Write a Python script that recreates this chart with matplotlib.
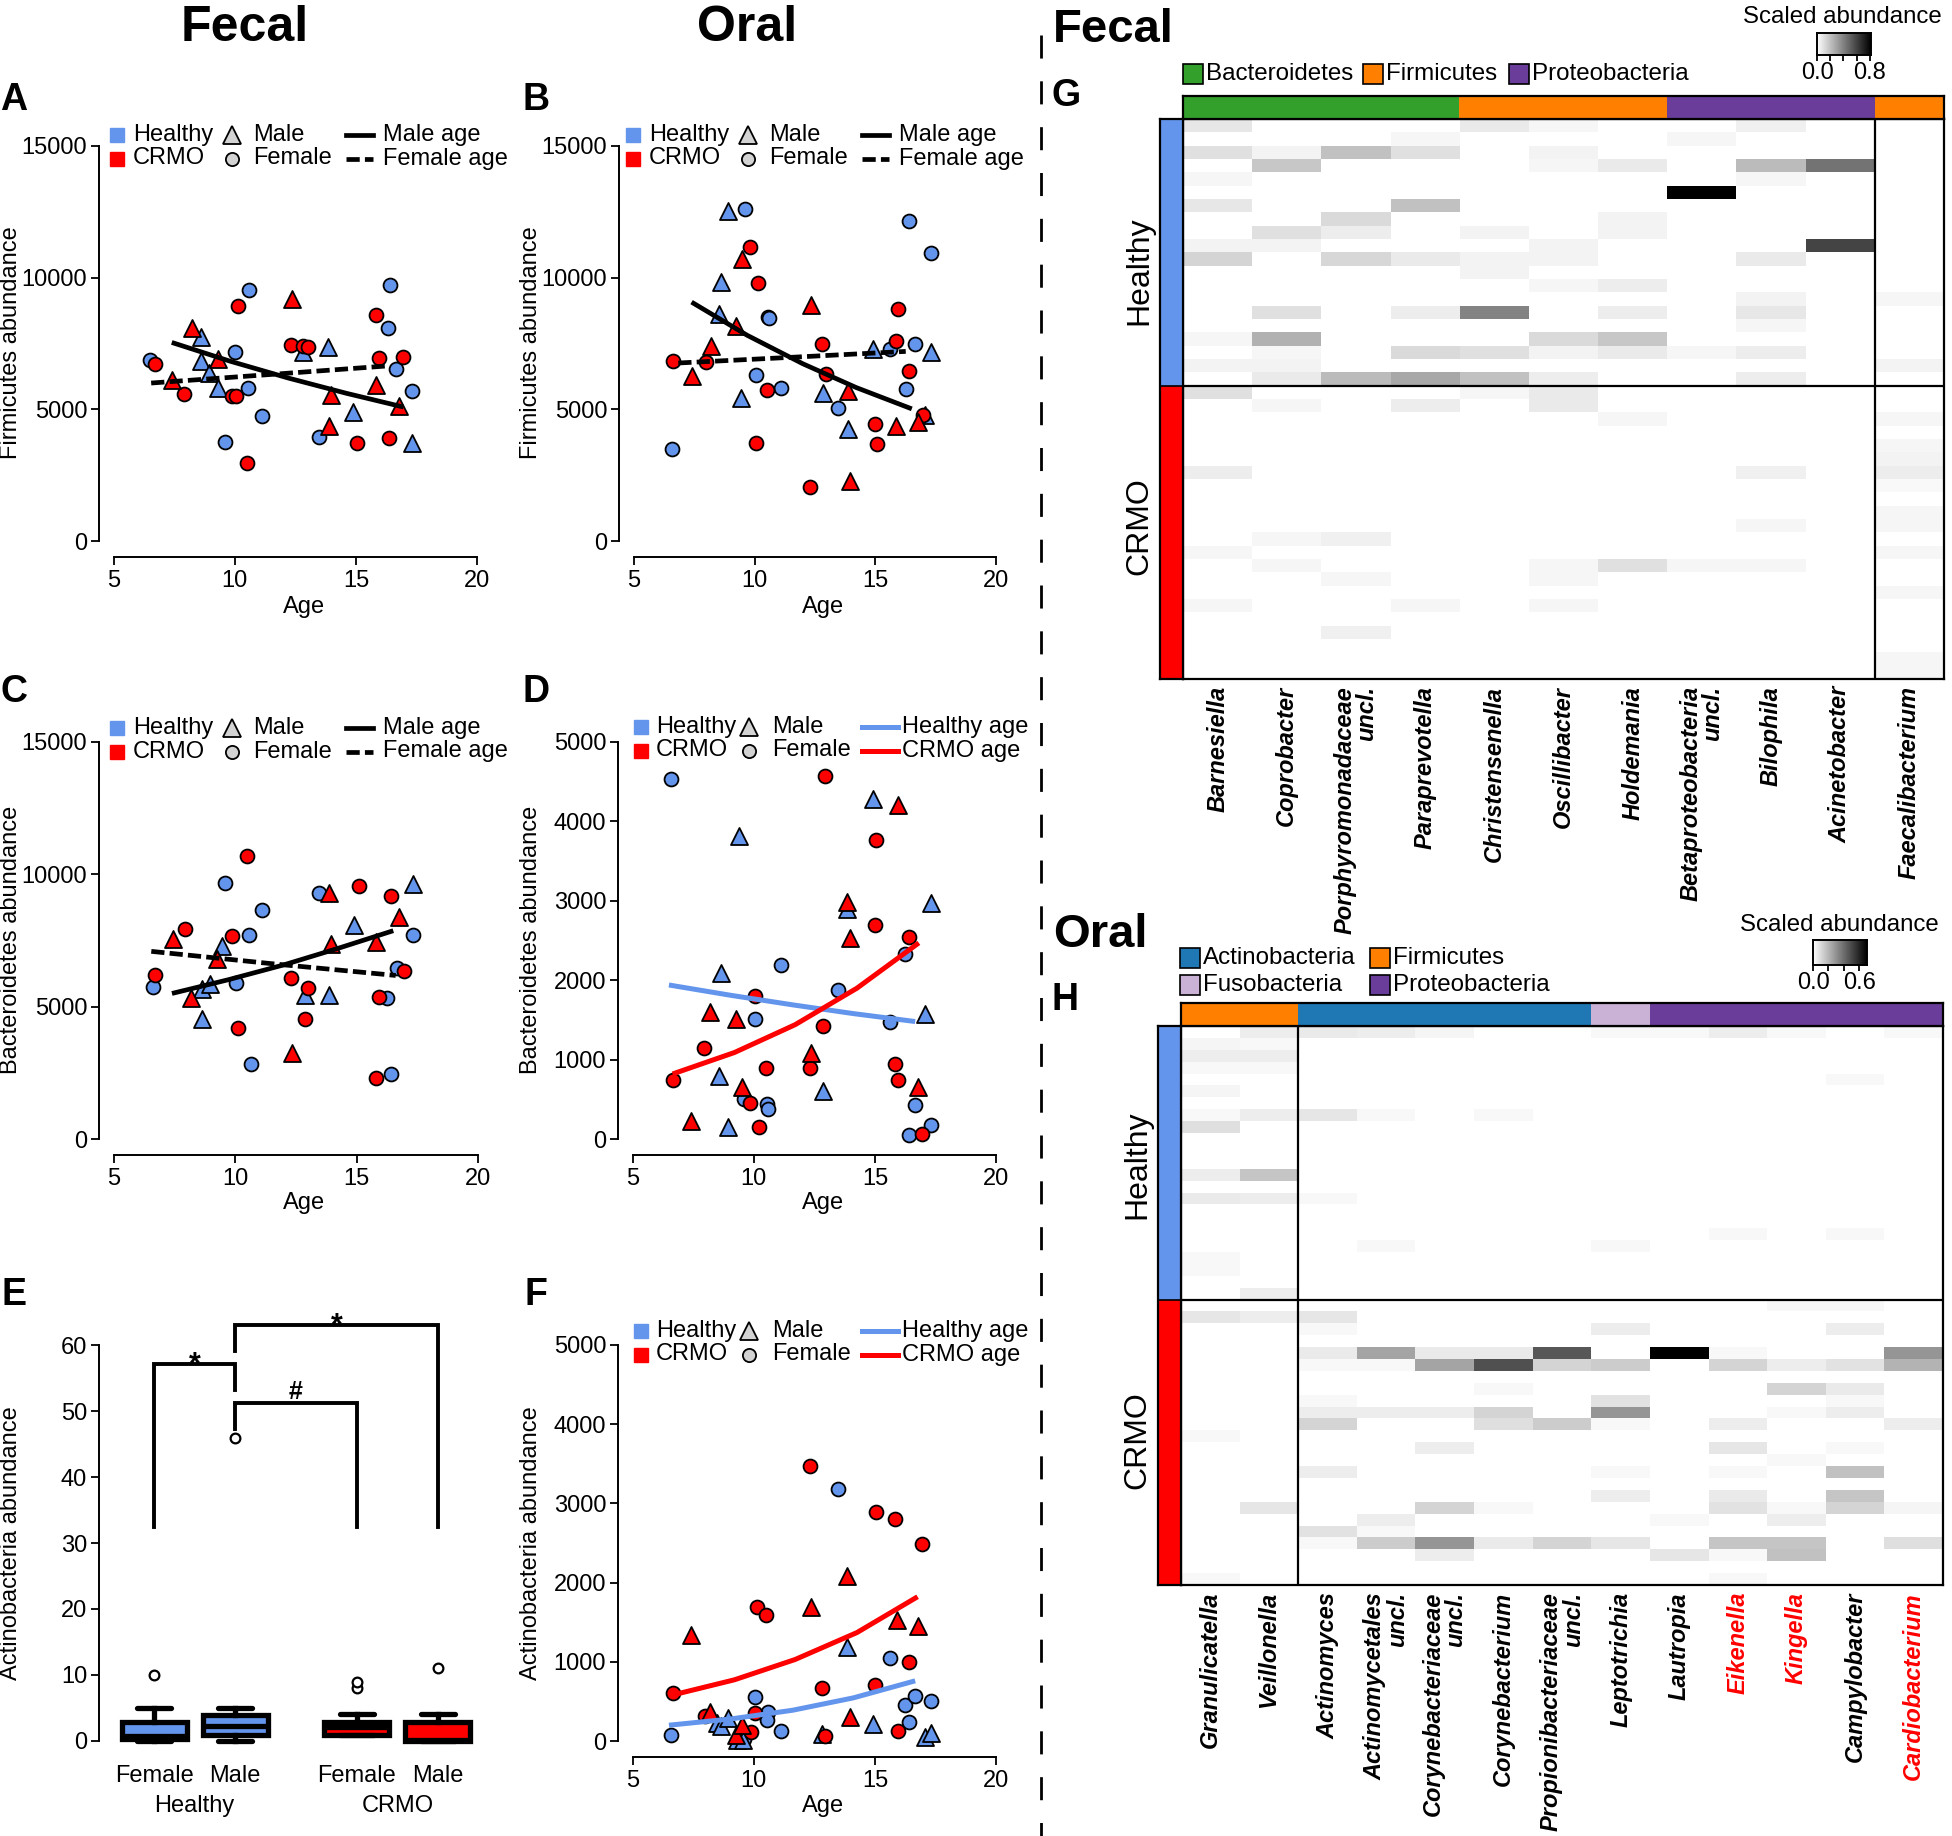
import numpy as np
import matplotlib
matplotlib.use("Agg")
import matplotlib.pyplot as plt
from matplotlib.colors import LinearSegmentedColormap, to_rgb
from matplotlib.lines import Line2D
from matplotlib.transforms import blended_transform_factory

plt.rcParams['font.family'] = ['Liberation Sans', 'DejaVu Sans']

# ---------------- data ----------------
# A: fecal Firmicutes vs age (hf = healthy female, hm = healthy male, cf/cm = CRMO)
a_hf_age = [6.5, 10.0, 10.6, 10.55, 11.1, 9.6, 13.45, 16.4, 16.3, 16.65, 17.3]
a_hf_val = [6890, 7170, 9520, 5800, 4760, 3780, 3950, 9720, 8090, 6550, 5700]
a_hm_age = [8.6, 8.6, 8.95, 9.3, 12.8, 13.85, 14.85, 17.3]
a_hm_val = [7760, 6850, 6390, 5800, 7170, 7370, 4890, 3720]
a_cf_age = [6.7, 7.9, 10.15, 9.9, 10.05, 10.5, 12.3, 12.8, 13.0, 15.05, 15.8, 15.95, 16.35, 16.95]
a_cf_val = [6720, 5580, 8930, 5500, 5500, 2970, 7430, 7410, 7370, 3720, 8580, 6940, 3910, 6980]
a_cm_age = [7.4, 8.25, 9.3, 12.35, 13.95, 13.9, 15.8, 16.75]
a_cm_val = [6130, 8090, 6910, 9200, 5540, 4370, 5930, 5110]
a_male_fit_age = [7.4, 9.8, 12.2, 14.6, 16.95]
a_male_fit = [7540, 6830, 6190, 5610, 5090]
a_female_fit_age = [6.55, 11.4, 16.3]
a_female_fit = [6000, 6320, 6650]

# B: oral Firmicutes vs age
b_hf_age = [6.6, 9.6, 10.05, 10.55, 10.6, 11.1, 13.45, 15.6, 16.4, 16.65, 16.25, 17.3]
b_hf_val = [3500, 12590, 6290, 8500, 8450, 5830, 5060, 7300, 12160, 7480, 5770, 10930]
b_hm_age = [8.9, 8.6, 8.55, 9.45, 12.85, 13.85, 14.9, 17.3, 17.05]
b_hm_val = [12520, 9850, 8610, 5450, 5610, 4270, 7300, 7170, 4800]
b_cf_age = [6.65, 8.0, 9.8, 10.15, 10.05, 10.5, 12.8, 12.95, 12.3, 15.0, 15.05, 15.95, 15.85, 16.4, 16.95]
b_cf_val = [6850, 6810, 11150, 9780, 3720, 5740, 7480, 6350, 2060, 4430, 3690, 8800, 7590, 6460, 4800]
b_cm_age = [7.4, 8.2, 9.5, 9.25, 12.35, 13.85, 13.95, 15.85, 16.75]
b_cm_val = [6260, 7410, 10720, 8150, 8970, 5700, 2280, 4370, 4530]
b_male_fit_age = [7.4, 9.7, 12.0, 14.2, 16.5]
b_male_fit = [9070, 7810, 6730, 5830, 5020]
b_female_fit_age = [6.85, 11.5, 16.25]
b_female_fit = [6760, 6975, 7200]

# C: fecal Bacteroidetes vs age
c_hf_age = [6.6, 9.6, 10.55, 11.1, 10.05, 10.65, 13.45, 16.4, 16.25, 16.65, 17.3]
c_hf_val = [5760, 9670, 7710, 8650, 5890, 2840, 9310, 2470, 5310, 6480, 7690]
c_hm_age = [9.45, 8.65, 8.95, 8.65, 12.85, 13.85, 14.9, 17.3]
c_hm_val = [7310, 5660, 5850, 4530, 5440, 5460, 8090, 9620]
c_cf_age = [6.7, 7.95, 9.85, 10.5, 10.1, 12.3, 13.0, 12.85, 15.1, 16.4, 15.9, 15.8, 16.95]
c_cf_val = [6180, 7950, 7660, 10690, 4200, 6090, 5700, 4530, 9540, 9170, 5370, 2290, 6350]
c_cm_age = [7.45, 8.2, 9.25, 12.35, 13.85, 13.95, 15.8, 16.75]
c_cm_val = [7550, 5330, 6790, 3250, 9310, 7360, 7430, 8370]
c_male_fit_age = [7.4, 9.7, 12.0, 14.2, 16.5]
c_male_fit = [5500, 6015, 6580, 7195, 7870]
c_female_fit_age = [6.55, 11.55, 16.6]
c_female_fit = [7090, 6620, 6180]

# D: oral Bacteroidetes vs age
d_hf_age = [6.6, 11.1, 10.05, 13.45, 15.6, 16.25, 9.6, 10.55, 10.6, 16.65, 16.4, 17.3]
d_hf_val = [4530, 2190, 1510, 1880, 1480, 2330, 500, 440, 380, 425, 56, 178]
d_hm_age = [9.4, 8.65, 8.55, 8.95, 12.85, 13.85, 14.9, 17.05, 17.3]
d_hm_val = [3820, 2090, 800, 150, 600, 2900, 4280, 1580, 2970]
d_cf_age = [6.65, 7.95, 10.05, 9.85, 10.5, 10.2, 12.95, 12.85, 12.3, 15.0, 15.05, 16.4, 15.8, 15.95, 16.95]
d_cf_val = [740, 1150, 1800, 460, 900, 155, 4570, 1430, 900, 2700, 3760, 2540, 940, 740, 70]
d_cm_age = [7.4, 8.2, 9.25, 9.5, 12.35, 13.85, 13.95, 15.95, 16.75]
d_cm_val = [230, 1600, 1510, 660, 1090, 2980, 2530, 4200, 660]
d_healthy_fit_age = [6.5, 9.05, 11.6, 14.1, 16.65]
d_healthy_fit = [1940, 1810, 1690, 1580, 1480]
d_crmo_fit_age = [6.65, 9.2, 11.7, 14.25, 16.8]
d_crmo_fit = [820, 1090, 1440, 1900, 2470]

# F: oral Actinobacteria vs age
f_hf_age = [6.6, 10.05, 10.6, 10.55, 11.1, 9.6, 13.45, 15.6, 16.25, 16.4, 16.65, 17.3]
f_hf_val = [76, 560, 367, 269, 134, 22, 3178, 1043, 457, 237, 568, 501]
f_hm_age = [8.5, 8.65, 8.95, 9.3, 9.55, 12.8, 13.85, 14.9, 17.05, 17.3]
f_hm_val = [233, 188, 291, 15, 9, 90, 1186, 215, 54, 98]
f_cf_age = [6.65, 8.0, 10.05, 9.9, 10.15, 10.5, 12.3, 12.8, 12.95, 15.05, 15.8, 15.0, 16.4, 15.95, 16.95]
f_cf_val = [604, 322, 358, 121, 1692, 1589, 3469, 671, 67, 2896, 2807, 707, 994, 125, 2493]
f_cm_age = [7.4, 8.2, 9.25, 9.5, 12.35, 13.85, 13.95, 15.9, 16.75]
f_cm_val = [1343, 367, 81, 201, 1692, 2081, 304, 1531, 1455]
f_healthy_fit_age = [6.5, 9.05, 11.6, 14.1, 16.65]
f_healthy_fit = [201, 280, 390, 546, 761]
f_crmo_fit_age = [6.65, 9.2, 11.7, 14.25, 16.75]
f_crmo_fit = [582, 774, 1030, 1370, 1822]

# E: fecal Actinobacteria box plots
e_labels = ['Female', 'Male', 'Female', 'Male']
e_q1 = [0.3, 0.9, 0.9, 0.0]
e_med = [0.8, 2.3, 2.1, 0.2]
e_q3 = [2.9, 3.9, 2.85, 2.85]
e_whislo = [0, 0, 0.9, 0]
e_whishi = [5, 5, 4, 4]
e_fliers = [[10], [46], [8, 9], [11]]
# (left box, right box, left foot, top, right foot, mark)
e_brackets = [(1, 2, 32.5, 57.1, 53.2, '*'),
              (2, 3.5, 47.3, 51.2, 32.5, '#'),
              (2, 4.5, 59.1, 63.0, 32.5, '*')]

# G: fecal genera heatmap (row, column, scaled abundance); rows 0-19 healthy, 20-41 CRMO
fecal_taxa = ['Barnesiella', 'Coprobacter', 'Porphyromonadaceae\nuncl.', 'Paraprevotella',
              'Christensenella', 'Oscillibacter', 'Holdemania', 'Betaproteobacteria\nuncl.',
              'Bilophila', 'Acinetobacter', 'Faecalibacterium']
fecal_phyla = ['Bacteroidetes'] * 4 + ['Firmicutes'] * 3 + ['Proteobacteria'] * 3 + ['Firmicutes']
fecal_n_healthy, fecal_n_crmo = 20, 22
fecal_cells = [
    (0, 0, .08), (0, 4, .07), (0, 5, .03), (0, 8, .05),
    (1, 3, .03), (1, 7, .03),
    (2, 0, .10), (2, 1, .04), (2, 2, .20), (2, 3, .10), (2, 5, .04),
    (3, 1, .18), (3, 5, .03), (3, 6, .07), (3, 8, .22), (3, 9, .45),
    (4, 0, .03), (4, 8, .03),
    (5, 7, .82),
    (6, 0, .08), (6, 3, .20),
    (7, 2, .12), (7, 6, .04),
    (8, 1, .10), (8, 2, .06), (8, 4, .04), (8, 6, .04),
    (9, 0, .04), (9, 1, .04), (9, 5, .04), (9, 9, .60),
    (10, 0, .14), (10, 2, .13), (10, 3, .07), (10, 4, .04), (10, 5, .04), (10, 8, .07),
    (11, 4, .04),
    (12, 5, .03), (12, 6, .06),
    (13, 8, .04), (13, 10, .03),
    (14, 1, .10), (14, 3, .06), (14, 4, .40), (14, 6, .06), (14, 8, .08),
    (15, 8, .03),
    (16, 0, .03), (16, 1, .25), (16, 5, .12), (16, 6, .18),
    (17, 1, .03), (17, 3, .12), (17, 4, .10), (17, 5, .04), (17, 6, .07), (17, 7, .03), (17, 8, .06),
    (18, 0, .04), (18, 1, .04), (18, 10, .04),
    (19, 1, .07), (19, 2, .22), (19, 3, .28), (19, 4, .20), (19, 5, .06), (19, 8, .06),
    (20, 0, .10), (20, 4, .03), (20, 5, .07),
    (21, 1, .03), (21, 3, .06), (21, 5, .07),
    (22, 6, .03), (22, 10, .03),
    (24, 10, .03), (25, 10, .04),
    (26, 0, .06), (26, 8, .05), (26, 10, .06),
    (27, 10, .02), (29, 10, .03),
    (30, 8, .03), (30, 10, .03),
    (31, 1, .03), (31, 2, .05),
    (32, 0, .03), (32, 10, .03),
    (33, 1, .03), (33, 5, .03), (33, 6, .10), (33, 7, .03), (33, 8, .03),
    (34, 2, .03), (34, 5, .03),
    (35, 10, .03),
    (36, 0, .03), (36, 3, .03), (36, 5, .03),
    (38, 2, .05),
    (40, 10, .03), (41, 10, .03),
]

# H: oral genera heatmap; rows 0-22 healthy, 23-46 CRMO
oral_taxa = ['Granulicatella', 'Veillonella', 'Actinomyces', 'Actinomycetales\nuncl.',
             'Corynebacteriaceae\nuncl.', 'Corynebacterium', 'Propionibacteriaceae\nuncl.',
             'Leptotrichia', 'Lautropia', 'Eikenella', 'Kingella', 'Campylobacter', 'Cardiobacterium']
oral_highlight = ['Eikenella', 'Kingella', 'Cardiobacterium']
oral_phyla = ['Firmicutes'] * 2 + ['Actinobacteria'] * 5 + ['Fusobacteria'] + ['Proteobacteria'] * 5
oral_n_healthy, oral_n_crmo = 23, 24
oral_cells = [
    (0, 1, .05), (0, 2, .06), (0, 3, .05), (0, 4, .03), (0, 7, .02), (0, 8, .02), (0, 9, .05),
    (0, 10, .02), (0, 12, .02),
    (1, 0, .03), (1, 1, .02),
    (2, 0, .05), (2, 1, .05),
    (3, 0, .02), (3, 1, .02),
    (4, 11, .02),
    (5, 0, .03),
    (7, 0, .02), (7, 1, .05), (7, 2, .07), (7, 3, .02), (7, 5, .02),
    (8, 0, .09),
    (12, 0, .05), (12, 1, .16),
    (14, 0, .06), (14, 1, .05), (14, 2, .02),
    (17, 9, .02), (17, 11, .02),
    (18, 3, .02), (18, 7, .02),
    (19, 0, .02), (20, 0, .02),
    (22, 1, .05),
    (23, 10, .02), (23, 11, .02),
    (24, 0, .07), (24, 1, .05), (24, 2, .07),
    (25, 2, .02), (25, 7, .05), (25, 11, .05),
    (27, 2, .06), (27, 3, .25), (27, 4, .06), (27, 5, .06), (27, 6, .46), (27, 8, .70),
    (27, 9, .02), (27, 12, .29),
    (28, 2, .02), (28, 3, .02), (28, 4, .25), (28, 5, .48), (28, 6, .12), (28, 7, .14),
    (28, 9, .12), (28, 10, .05), (28, 11, .08), (28, 12, .21),
    (30, 5, .02), (30, 10, .12), (30, 11, .06),
    (31, 2, .02), (31, 7, .08), (31, 11, .02),
    (32, 2, .05), (32, 3, .05), (32, 4, .05), (32, 5, .12), (32, 7, .29), (32, 10, .02), (32, 11, .05),
    (33, 2, .12), (33, 5, .09), (33, 6, .14), (33, 7, .02), (33, 9, .05), (33, 12, .05),
    (34, 0, .02),
    (35, 4, .05), (35, 9, .07), (35, 11, .02),
    (36, 10, .02),
    (37, 2, .05), (37, 7, .02), (37, 9, .02), (37, 11, .17),
    (39, 7, .05), (39, 9, .06), (39, 11, .16),
    (40, 1, .07), (40, 4, .12), (40, 5, .02), (40, 9, .08), (40, 10, .02), (40, 11, .12), (40, 12, .03),
    (41, 3, .05), (41, 8, .02), (41, 10, .05),
    (42, 2, .08), (42, 3, .02),
    (43, 2, .02), (43, 3, .14), (43, 4, .29), (43, 5, .06), (43, 6, .12), (43, 7, .07),
    (43, 9, .16), (43, 10, .16), (43, 12, .09),
    (44, 4, .05), (44, 8, .07), (44, 9, .02), (44, 10, .17),
    (46, 0, .02), (46, 9, .02),
]

# ---------------- style ----------------
BLUE = '#6495ED'
RED = '#FF0000'
GREY = '#D3D3D3'
FS = 17
phylum_colors = {'Bacteroidetes': '#33A02C', 'Firmicutes': '#FF7F00', 'Proteobacteria': '#6A3D9A',
                 'Actinobacteria': '#1F78B4', 'Fusobacteria': '#CAB2D6'}
grey_cmap = LinearSegmentedColormap.from_list('white_black', ['white', 'black'])

W, H = 1952, 1836
fig = plt.figure(figsize=(W / 100, H / 100), dpi=100)


def box(left, top, right, bottom):
    # axes placed in pixel coordinates of the final image
    return fig.add_axes([left / W, 1 - bottom / H, (right - left) / W, (bottom - top) / H])


def ftext(x, y, s, **kw):
    fig.text(x / W, 1 - y / H, s, **kw)


def fmark(x, y, **kw):
    fig.add_artist(Line2D([x / W], [1 - y / H], linestyle='none', transform=fig.transFigure, **kw))


def fline(x1, x2, y, **kw):
    fig.add_artist(Line2D([x1 / W, x2 / W], [1 - y / H] * 2, transform=fig.transFigure, **kw))


def r_axes(ax, xlim, ylim, xticks, yticks):
    ax.set_xlim(*xlim)
    ax.set_ylim(*ylim)
    ax.set_yticks(yticks)
    for s in ['top', 'right']:
        ax.spines[s].set_visible(False)
    ax.spines['left'].set_bounds(yticks[0], yticks[-1])
    ax.spines['left'].set_linewidth(1.4)
    if xticks is None:
        ax.spines['bottom'].set_visible(False)
        ax.set_xticks([])
    else:
        ax.set_xticks(xticks)
        ax.spines['bottom'].set_bounds(xticks[0], xticks[-1])
        ax.spines['bottom'].set_linewidth(1.4)
    ax.tick_params(axis='y', length=5.5, width=1.3, labelsize=FS, pad=3)
    ax.tick_params(axis='x', length=5.5, width=1.3, labelsize=FS, pad=4)
    ax.patch.set_alpha(0)


def scatter_panel(rect, data, ylim, yticks, fits):
    ax = box(*rect)
    r_axes(ax, (4.4, 20.6), ylim, [5, 10, 15, 20], yticks)
    for ages, vals, color, marker in data:
        size = 100 if marker == 'o' else 150
        ax.scatter(ages, vals, s=size, marker=marker, c=color, edgecolors='black',
                   linewidths=1.3, zorder=3, clip_on=False)
    for ages, vals, kw in fits:
        ax.plot(ages, vals, zorder=4, solid_capstyle='butt', **kw)
    return ax


def key(x0, y0, line_labels, line_kws, wide):
    o = (15, 108, 131, 221, 257, 261) if wide else (16, 115, 136, 229, 256, 266)
    rows = [y0, y0 + 23.5]
    for y, c, lab in zip(rows, [BLUE, RED], ['Healthy', 'CRMO']):
        fmark(x0, y, marker='s', markersize=10.5, markerfacecolor=c, markeredgecolor=c)
        ftext(x0 + o[0], y, lab, fontsize=FS, va='center', ha='left')
    fmark(x0 + o[1], rows[0], marker='^', markersize=13, markerfacecolor=GREY,
          markeredgecolor='black', markeredgewidth=1.3)
    fmark(x0 + o[1], rows[1], marker='o', markersize=9.5, markerfacecolor=GREY,
          markeredgecolor='black', markeredgewidth=1.3)
    ftext(x0 + o[2], rows[0], 'Male', fontsize=FS, va='center', ha='left')
    ftext(x0 + o[2], rows[1], 'Female', fontsize=FS, va='center', ha='left')
    for y, lab, kw in zip(rows, line_labels, line_kws):
        fline(x0 + o[3], x0 + o[4], y, **kw)
        ftext(x0 + o[5], y, lab, fontsize=FS, va='center', ha='left')


solid = dict(color='black', lw=3.4)
dashed = dict(color='black', lw=3.4, linestyle=(0, (2.8, 1.1)))
blue_fit = dict(color=BLUE, lw=3.6)
red_fit = dict(color=RED, lw=3.6)

# ---------------- panels A-F ----------------
scatter_panel((99, 130, 492, 557),
              [(a_hf_age, a_hf_val, BLUE, 'o'), (a_hm_age, a_hm_val, BLUE, '^'),
               (a_cf_age, a_cf_val, RED, 'o'), (a_cm_age, a_cm_val, RED, '^')],
              (-600, 15600), [0, 5000, 10000, 15000],
              [(a_male_fit_age, a_male_fit, solid), (a_female_fit_age, a_female_fit, dashed)])
key(117, 135, ['Male age', 'Female age'], [solid, dashed], False)

scatter_panel((619, 130, 1011, 557),
              [(b_hf_age, b_hf_val, BLUE, 'o'), (b_hm_age, b_hm_val, BLUE, '^'),
               (b_cf_age, b_cf_val, RED, 'o'), (b_cm_age, b_cm_val, RED, '^')],
              (-600, 15600), [0, 5000, 10000, 15000],
              [(b_male_fit_age, b_male_fit, solid), (b_female_fit_age, b_female_fit, dashed)])
key(633, 135, ['Male age', 'Female age'], [solid, dashed], False)

scatter_panel((99, 726, 493, 1155),
              [(c_hf_age, c_hf_val, BLUE, 'o'), (c_hm_age, c_hm_val, BLUE, '^'),
               (c_cf_age, c_cf_val, RED, 'o'), (c_cm_age, c_cm_val, RED, '^')],
              (-600, 15600), [0, 5000, 10000, 15000],
              [(c_male_fit_age, c_male_fit, solid), (c_female_fit_age, c_female_fit, dashed)])
key(117, 728, ['Male age', 'Female age'], [solid, dashed], False)

scatter_panel((618, 726, 1011, 1155),
              [(d_hf_age, d_hf_val, BLUE, 'o'), (d_hm_age, d_hm_val, BLUE, '^'),
               (d_cf_age, d_cf_val, RED, 'o'), (d_cm_age, d_cm_val, RED, '^')],
              (-200, 5200), [0, 1000, 2000, 3000, 4000, 5000],
              [(d_healthy_fit_age, d_healthy_fit, blue_fit), (d_crmo_fit_age, d_crmo_fit, red_fit)])
key(641, 727, ['Healthy age', 'CRMO age'], [blue_fit, red_fit], True)

scatter_panel((618, 1329, 1011, 1757),
              [(f_hf_age, f_hf_val, BLUE, 'o'), (f_hm_age, f_hm_val, BLUE, '^'),
               (f_cf_age, f_cf_val, RED, 'o'), (f_cm_age, f_cm_val, RED, '^')],
              (-200, 5200), [0, 1000, 2000, 3000, 4000, 5000],
              [(f_healthy_fit_age, f_healthy_fit, blue_fit), (f_crmo_fit_age, f_crmo_fit, red_fit)])
key(641, 1331, ['Healthy age', 'CRMO age'], [blue_fit, red_fit], True)

# axis labels
for x, y in [(304, 607), (823, 607), (304, 1203), (823, 1203), (823, 1806)]:
    ftext(x, y, 'Age', fontsize=FS, ha='center', va='center')
for x, y, lab in [(11, 343, 'Firmicutes abundance'), (531, 343, 'Firmicutes abundance'),
                  (11, 940, 'Bacteroidetes abundance'), (531, 940, 'Bacteroidetes abundance'),
                  (11, 1543, 'Actinobacteria abundance'), (531, 1543, 'Actinobacteria abundance')]:
    ftext(x, y, lab, fontsize=FS, ha='center', va='center', rotation=90)

# E: box plots
ax = box(99, 1309, 493, 1758)
r_axes(ax, (0.32, 5.18), (-2.6, 65.5), None, [0, 10, 20, 30, 40, 50, 60])
e_pos = [1, 2, 3.5, 4.5]
stats = [dict(med=m, q1=a, q3=b, whislo=lo, whishi=hi, fliers=fl)
         for m, a, b, lo, hi, fl in zip(e_med, e_q1, e_q3, e_whislo, e_whishi, e_fliers)]
bp = ax.bxp(stats, positions=e_pos, widths=0.8, capwidths=0.42, patch_artist=True,
            boxprops=dict(linewidth=3.8, edgecolor='black'),
            medianprops=dict(color='black', linewidth=3.8),
            whiskerprops=dict(linewidth=3.8, color='black'),
            capprops=dict(linewidth=3.8, color='black', solid_capstyle='round'),
            flierprops=dict(marker='o', markerfacecolor='white', markeredgecolor='black',
                            markersize=7, markeredgewidth=1.6))
for patch, c in zip(bp['boxes'], [BLUE, BLUE, RED, RED]):
    patch.set_facecolor(c)
ax.set_xticks([])
for xl, xr, yl, yt, yr, mark in e_brackets:
    ax.plot([xl, xl, xr, xr], [yl, yt, yt, yr], color='black', lw=2.8, clip_on=False,
            solid_joinstyle='miter')
    if mark == '*':
        ax.text((xl + xr) / 2, yt - 1.3, mark, ha='center', va='baseline', fontsize=22,
                fontweight='bold')
    else:
        ax.text((xl + xr) / 2, yt + 0.6, mark, ha='center', va='baseline', fontsize=18,
                fontweight='bold')
for p, lab in zip(e_pos, e_labels):
    ax.text(p, -5.3, lab, ha='center', va='center', fontsize=FS)
ax.text(1.5, -9.9, 'Healthy', ha='center', va='center', fontsize=FS)
ax.text(4.0, -9.9, 'CRMO', ha='center', va='center', fontsize=FS)


# ---------------- heatmaps ----------------
def heatmap(cells, n_h, n_c, taxa, phyla, label_red, vmax, heat_px, bar_top, side_left, split_col):
    left, top, right, bottom = heat_px
    nrow, ncol = n_h + n_c, len(taxa)
    mat = np.zeros((nrow, ncol))
    for r, c, v in cells:
        mat[r, c] = v
    ax = box(left, top, right, bottom)
    ax.pcolormesh(np.arange(ncol + 1), np.arange(nrow + 1), mat, cmap=grey_cmap, vmin=0, vmax=vmax)
    ax.set_xlim(0, ncol)
    ax.set_ylim(nrow, 0)
    ax.set_xticks([])
    ax.set_yticks([])
    for s in ax.spines.values():
        s.set_linewidth(1.6)
    ax.axhline(n_h, color='black', lw=1.6)
    ax.axvline(split_col, color='black', lw=1.6)
    tr = blended_transform_factory(ax.transData, ax.transAxes)
    for i, name in enumerate(taxa):
        col = RED if name in label_red else 'black'
        ax.text(i + 0.5, -7 / (bottom - top), name, transform=tr, rotation=90, ha='center', va='top',
                multialignment='right', fontsize=17, fontweight='bold', fontstyle='italic',
                color=col, linespacing=0.95)
    # phylum bar on top
    axt = box(left, bar_top, right, top)
    axt.imshow(np.array([[to_rgb(phylum_colors[p]) for p in phyla]]), aspect='auto',
               extent=(0, ncol, 0, 1), interpolation='nearest')
    axt.set_xticks([])
    axt.set_yticks([])
    for s in axt.spines.values():
        s.set_linewidth(1.6)
    # disease-state bar on the left
    axs = box(side_left, top, left, bottom)
    side = [[to_rgb(BLUE)]] * n_h + [[to_rgb(RED)]] * n_c
    axs.imshow(np.array(side), aspect='auto', extent=(0, 1, nrow, 0), interpolation='nearest')
    axs.set_xticks([])
    axs.set_yticks([])
    for s in axs.spines.values():
        s.set_linewidth(1.6)
    axs.axhline(n_h, color='black', lw=1.2)


def scale_bar(px, vmax, ticks, labels):
    ax = box(*px)
    ax.imshow(np.linspace(0, vmax, 256)[None, :], cmap=grey_cmap, vmin=0, vmax=vmax,
              aspect='auto', extent=(0, vmax, 0, 1))
    ax.set_xticks(ticks)
    ax.set_xticklabels(labels)
    ax.set_yticks([])
    ax.tick_params(axis='x', length=4, width=1.3, labelsize=17, pad=1)
    for s in ax.spines.values():
        s.set_linewidth(1.4)


def phylum_key(items, y_rows):
    for (x, row, name) in items:
        y = y_rows[row]
        fmark(x, y, marker='s', markersize=14, markerfacecolor=phylum_colors[name],
              markeredgecolor='black', markeredgewidth=1.2)
        ftext(x + 13, y, name, fontsize=17.4, va='center', ha='left')


heatmap(fecal_cells, fecal_n_healthy, fecal_n_crmo, fecal_taxa, fecal_phyla, [], 0.82,
        (1183, 119, 1944, 679), 96, 1160, 10)
scale_bar((1817, 33, 1871, 55), 0.82, [0, 0.2, 0.4, 0.6, 0.8], ['0.0', '', '', '', '0.8'])
ftext(1842, 17, 'Scaled abundance', fontsize=17.3, ha='center', va='center')
phylum_key([(1193, 0, 'Bacteroidetes'), (1373, 0, 'Firmicutes'), (1519, 0, 'Proteobacteria')], [74])
ftext(1139, 271, 'Healthy', fontsize=23, rotation=90, ha='center', va='center')
ftext(1139, 526, 'CRMO', fontsize=23, rotation=90, ha='center', va='center')

heatmap(oral_cells, oral_n_healthy, oral_n_crmo, oral_taxa, oral_phyla, oral_highlight, 0.7,
        (1181, 1026, 1943, 1585), 1003, 1158, 2)
scale_bar((1813, 940, 1867, 965), 0.7, [0, 0.2, 0.4, 0.6], ['0.0', '', '', '0.6'])
ftext(1839, 925, 'Scaled abundance', fontsize=17.3, ha='center', va='center')
phylum_key([(1190, 0, 'Actinobacteria'), (1380, 0, 'Firmicutes'),
            (1190, 1, 'Fusobacteria'), (1380, 1, 'Proteobacteria')], [958, 985])
ftext(1137, 1165, 'Healthy', fontsize=23, rotation=90, ha='center', va='center')
ftext(1137, 1440, 'CRMO', fontsize=23, rotation=90, ha='center', va='center')

# ---------------- titles, letters, divider ----------------
ftext(245, 28, 'Fecal', fontsize=36, fontweight='bold', ha='center', va='center')
ftext(747, 28, 'Oral', fontsize=36, fontweight='bold', ha='center', va='center')
ftext(1053, 30, 'Fecal', fontsize=34, fontweight='bold', ha='left', va='center')
ftext(1053, 935, 'Oral', fontsize=34, fontweight='bold', ha='left', va='center')
for x, y, letter in [(14, 100, 'A'), (536, 100, 'B'), (14, 692, 'C'), (536, 692, 'D'),
                     (14, 1295, 'E'), (536, 1295, 'F'), (1066, 96, 'G'), (1065, 1000, 'H')]:
    ftext(x, y, letter, fontsize=27, fontweight='bold', ha='center', va='center')

fig.add_artist(Line2D([1041 / W, 1041 / W], [1 - 35.4 / H, 0], color='black', lw=2.0,
                      linestyle=(0, (8.3, 8.2)), transform=fig.transFigure))

fig.savefig('out.png', dpi=100)
